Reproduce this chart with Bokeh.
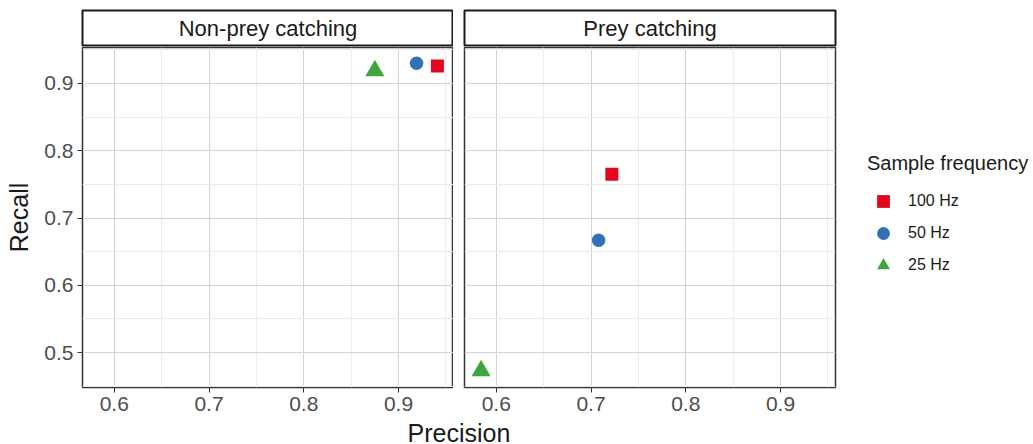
from bokeh.plotting import figure
from bokeh.models import Range1d, FixedTicker, Legend, LegendItem
from bokeh.layouts import column, row
from bokeh.core.properties import value
from bokeh.embed import file_html
from bokeh.resources import INLINE

# ---------------- data ----------------
facets = ["Non-prey catching", "Prey catching"]
frequencies = ["100 Hz", "50 Hz", "25 Hz"]
markers = ["square", "circle", "triangle"]
colors = ["#E3061E", "#3271B6", "#41A53E"]
marker_sizes = [13, 13.5, 19]

precision_nonprey = [0.941, 0.919, 0.875]
recall_nonprey = [0.926, 0.930, 0.919]
precision_prey = [0.722, 0.708, 0.584]
recall_prey = [0.765, 0.667, 0.473]

x_ticks = [0.6, 0.7, 0.8, 0.9]
x_minor = [0.55, 0.65, 0.75, 0.85, 0.95]
y_ticks = [0.5, 0.6, 0.7, 0.8, 0.9]
y_minor = [0.45, 0.55, 0.65, 0.75, 0.85, 0.95]
x_lim = (0.5665, 0.958)
y_lim = (0.448, 0.9535)

FONT = "Liberation Sans"
FRAME_W, FRAME_H = 371, 340
LEFT_B, GAP, RIGHT_B = 82, 11, 198


def make_strip(label, left_border, right_border):
    s = figure(frame_width=FRAME_W, frame_height=35,
               min_border_left=left_border, min_border_right=right_border,
               min_border_top=10, min_border_bottom=2,
               x_range=Range1d(0, 1), y_range=Range1d(0, 1),
               x_axis_location=None, y_axis_location=None,
               toolbar_location=None, output_backend="svg")
    s.grid.visible = False
    s.outline_line_color = "#1A1A1A"
    s.outline_line_width = 2
    s.background_fill_color = "white"
    s.border_fill_color = "white"
    s.text(x=[0.5], y=[0.5], text=[label], text_align="center",
           text_baseline="middle", text_font=value(FONT),
           text_font_size="22px", text_color="#1A1A1A")
    return s


def make_panel(px, py, left_border, right_border, show_y):
    p = figure(frame_width=FRAME_W, frame_height=FRAME_H,
               min_border_left=left_border, min_border_right=right_border,
               min_border_top=0, min_border_bottom=34,
               x_range=Range1d(*x_lim), y_range=Range1d(*y_lim),
               y_axis_location="left" if show_y else None,
               toolbar_location=None, output_backend="svg")
    p.outline_line_color = "#333333"
    p.outline_line_width = 1.5
    p.background_fill_color = "white"
    p.border_fill_color = "white"

    p.xaxis.ticker = FixedTicker(ticks=x_ticks, minor_ticks=x_minor)
    axes = list(p.xaxis)
    if show_y:
        p.yaxis.ticker = FixedTicker(ticks=y_ticks, minor_ticks=y_minor)
        p.yaxis.axis_label = "Recall"
        axes += list(p.yaxis)
    for ax in axes:
        ax.axis_line_color = None
        ax.major_tick_line_color = "#333333"
        ax.major_tick_line_width = 1
        ax.major_tick_out = 5
        ax.major_tick_in = 0
        ax.minor_tick_line_color = None
        ax.major_label_text_font = FONT
        ax.major_label_text_font_size = "21px"
        ax.major_label_text_color = "#4D4D4D"
        ax.major_label_standoff = 4
        ax.axis_label_text_font = FONT
        ax.axis_label_text_font_size = "25px"
        ax.axis_label_text_font_style = "normal"
        ax.axis_label_text_color = "#1A1A1A"
        ax.axis_label_standoff = 8

    for g in p.grid:
        g.grid_line_color = "#D4D4D4"
        g.grid_line_width = 1
        g.minor_grid_line_color = "#EBEBEB"
        g.minor_grid_line_width = 1
    if not show_y:
        p.ygrid.ticker = FixedTicker(ticks=y_ticks, minor_ticks=y_minor)

    rends = []
    for i in range(len(frequencies)):
        r = p.scatter(x=[px[i]], y=[py[i]], marker=markers[i],
                      size=marker_sizes[i], fill_color=colors[i],
                      line_color=colors[i], line_width=0)
        rends.append(r)
    return p, rends


sL = make_strip(facets[0], LEFT_B, 0)
sR = make_strip(facets[1], GAP, RIGHT_B)

pL, _ = make_panel(precision_nonprey, recall_nonprey, LEFT_B, 0, True)
pR, rR = make_panel(precision_prey, recall_prey, GAP, RIGHT_B, False)

legend = Legend(items=[LegendItem(label=frequencies[i], renderers=[rR[i]])
                       for i in range(len(frequencies))],
                location=(32, 106))
legend.title = "Sample frequency"
legend.title_text_font = FONT
legend.title_text_font_size = "20px"
legend.title_text_font_style = "normal"
legend.title_text_color = "#1A1A1A"
legend.title_standoff = 10
legend.label_text_font = FONT
legend.label_text_font_size = "16px"
legend.label_text_color = "#1A1A1A"
legend.glyph_width = 32
legend.glyph_height = 32
legend.label_height = 32
legend.label_standoff = 9
legend.spacing = 0
legend.padding = 0
legend.margin = 0
legend.border_line_color = None
legend.background_fill_color = None
pR.add_layout(legend, "right")

bottom = figure(frame_width=2 * FRAME_W + GAP, frame_height=23,
                min_border_left=LEFT_B, min_border_right=0,
                min_border_top=0, min_border_bottom=0,
                x_range=Range1d(0, 1), y_range=Range1d(0, 1),
                x_axis_location=None, y_axis_location=None,
                toolbar_location=None, output_backend="svg")
bottom.grid.visible = False
bottom.outline_line_color = None
bottom.text(x=[0.5], y=[0.5], text=["Precision"], text_align="center",
            text_baseline="middle", text_font=value(FONT),
            text_font_size="25px", text_color="#1A1A1A")

layout = column(row(sL, sR), row(pL, pR), bottom)

open("out.html", "w").write(file_html(layout, INLINE))
